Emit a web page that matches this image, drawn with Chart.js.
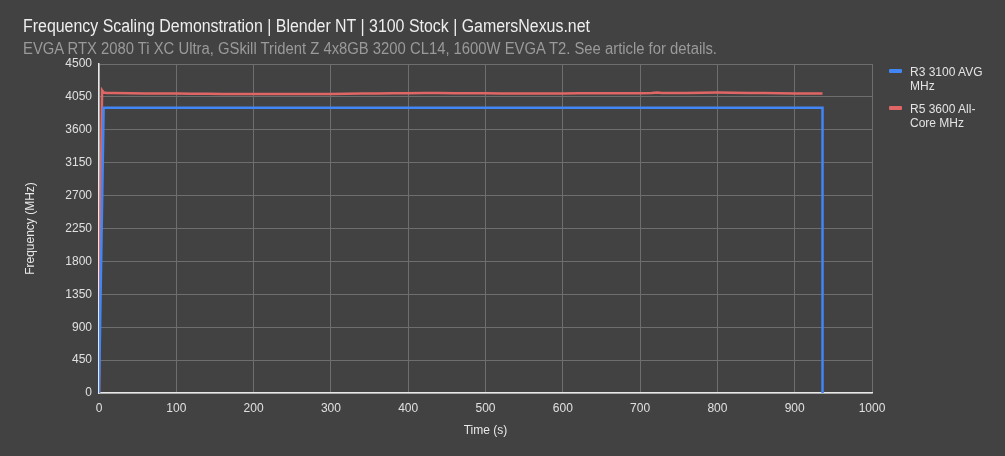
<!DOCTYPE html>
<html>
<head>
<meta charset="utf-8">
<script src="https://cdn.jsdelivr.net/npm/chart.js@4.4.0/dist/chart.umd.min.js"></script>
<style>
  html, body { margin: 0; padding: 0; background: #424242; }
  #wrap { position: relative; width: 1005px; height: 456px; background: #424242; overflow: hidden; }
  #title { position: absolute; left: 23px; top: 15px; font-family: "Liberation Sans Narrow", "Liberation Sans", sans-serif; font-size: 18px; line-height: 22px; color: #eeeeee; white-space: nowrap; transform-origin: 0 0; }
  #subtitle { position: absolute; left: 23px; top: 39px; font-family: "Liberation Sans Narrow", "Liberation Sans", sans-serif; font-size: 16px; line-height: 19px; color: #9a9a9a; white-space: nowrap; transform-origin: 0 0; }
  #legend { position: absolute; left: 889px; top: 65px; font-family: "Liberation Sans", Arial, sans-serif; font-size: 12px; color: #e3e3e3; }
  .item { position: relative; padding-left: 21px; margin-bottom: 9px; width: 80px; line-height: 14px; }
  .sw { position: absolute; left: 0; top: 4px; width: 13px; height: 4px; border-radius: 1px; }
  canvas { position: absolute; left: 0; top: 0; }
</style>
</head>
<body>
<div id="wrap">
  <canvas id="c" width="1005" height="456"></canvas>
  <div id="title"></div>
  <div id="subtitle"></div>
  <div id="legend"></div>
</div>
<script>
const chartTitle = "Frequency Scaling Demonstration | Blender NT | 3100 Stock | GamersNexus.net";
const chartSubtitle = "EVGA RTX 2080 Ti XC Ultra, GSkill Trident Z 4x8GB 3200 CL14, 1600W EVGA T2. See article for details.";
const seriesNames = ["R3 3100 AVG MHz", "R5 3600 All-Core MHz"];
const seriesColors = ["#4285f4", "#e06666"];
const xTitle = "Time (s)";
const yTitle = "Frequency (MHz)";

const r3Time = [0, 6, 936, 936];
const r3MHz  = [0, 3900, 3900, 0];

const r5Time = [0, 2, 4, 6, 10, 20, 40, 60, 80, 100, 120, 140, 160, 180, 200, 220, 240, 260, 280, 300, 320, 340, 360, 380, 400, 420, 440, 460, 480, 500, 520, 540, 560, 580, 600, 620, 640, 660, 680, 700, 715, 722, 728, 740, 760, 780, 800, 820, 840, 860, 880, 900, 920, 936];
const r5MHz  = [0, 2500, 4140, 4110, 4105, 4105, 4100, 4098, 4095, 4095, 4092, 4092, 4090, 4090, 4090, 4090, 4088, 4088, 4090, 4090, 4092, 4095, 4098, 4100, 4100, 4102, 4102, 4100, 4100, 4100, 4098, 4098, 4098, 4098, 4098, 4100, 4100, 4100, 4100, 4100, 4102, 4110, 4104, 4105, 4105, 4108, 4110, 4108, 4105, 4103, 4100, 4098, 4097, 4097];

const xMin = 0, xMax = 1000, xStep = 100;
const yMin = 0, yMax = 4500, yStep = 450;

function fitWidth(el, w) {
  const r = el.getBoundingClientRect().width;
  if (r > 0) el.style.transform = 'scaleX(' + (w / r) + ')';
}
const tEl = document.getElementById('title');
const sEl = document.getElementById('subtitle');
tEl.textContent = chartTitle;
sEl.textContent = chartSubtitle;
fitWidth(tEl, 567);
fitWidth(sEl, 694);

const leg = document.getElementById('legend');
seriesNames.forEach((n, i) => {
  const d = document.createElement('div'); d.className = 'item';
  const s = document.createElement('span'); s.className = 'sw'; s.style.background = seriesColors[i];
  d.appendChild(s); d.appendChild(document.createTextNode(n)); leg.appendChild(d);
});

const toPts = (xs, ys) => xs.map((x, i) => ({x: x, y: ys[i]}));
const plain = v => String(v);

const FONT = "'Liberation Sans', Arial, sans-serif";
new Chart(document.getElementById('c'), {
  type: 'line',
  data: {
    datasets: [
      { label: seriesNames[0], data: toPts(r3Time, r3MHz), borderColor: seriesColors[0], backgroundColor: seriesColors[0], borderWidth: 2.5, pointRadius: 0, tension: 0 },
      { label: seriesNames[1], data: toPts(r5Time, r5MHz), borderColor: seriesColors[1], backgroundColor: seriesColors[1], borderWidth: 2.5, pointRadius: 0, tension: 0 }
    ]
  },
  options: {
    responsive: false,
    animation: false,
    devicePixelRatio: 1,
    layout: { padding: { left: 0, right: 133, top: 64, bottom: 0 } },
    plugins: { legend: { display: false }, title: { display: false }, tooltip: { enabled: false } },
    scales: {
      x: {
        type: 'linear', min: xMin, max: xMax,
        ticks: { stepSize: xStep, color: '#e0e0e0', font: { family: FONT, size: 12 }, padding: 8, callback: plain },
        grid: { color: '#6e6e6e', lineWidth: 1, drawTicks: false },
        border: { color: '#e8e8e8', width: 1.5 },
        title: { display: true, text: xTitle, color: '#e8e8e8', font: { family: FONT, size: 12 }, padding: { top: 4, bottom: 18 } },
        afterFit: s => { s.height = 63; }
      },
      y: {
        min: yMin, max: yMax,
        ticks: { stepSize: yStep, color: '#e0e0e0', font: { family: FONT, size: 12 }, padding: 7, callback: plain },
        grid: { color: '#6e6e6e', lineWidth: 1, drawTicks: false },
        border: { color: '#e8e8e8', width: 1.5 },
        title: { display: true, text: yTitle, color: '#e8e8e8', font: { family: FONT, size: 12 }, padding: { top: 23, bottom: 0 } },
        afterFit: s => { s.width = 99; }
      }
    }
  }
});
</script>
</body>
</html>
